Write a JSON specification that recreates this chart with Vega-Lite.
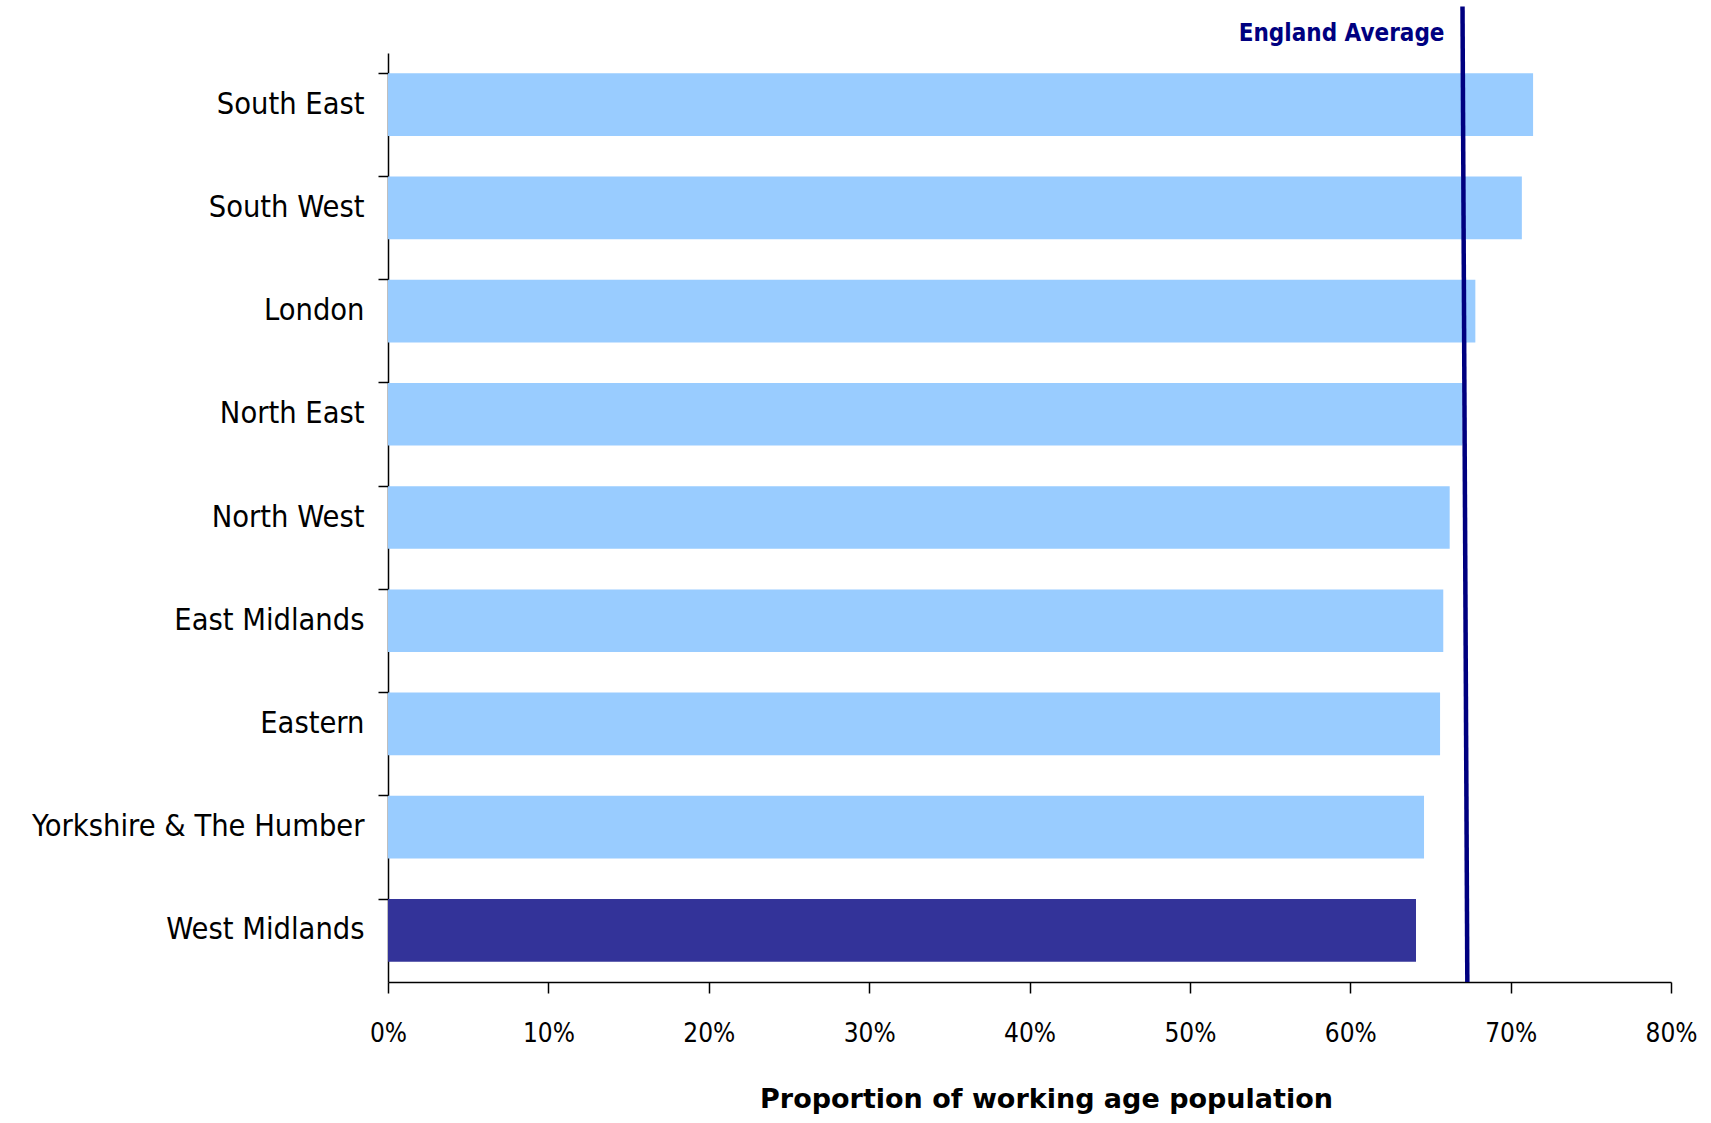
{
  "$schema": "https://vega.github.io/schema/vega-lite/v6.json",
  "autosize": {"type": "none"},
  "padding": {"left": 388, "top": 53, "right": 40, "bottom": 141},
  "width": 1283,
  "height": 929,
  "background": "white",
  "config": {
    "view": {"stroke": null},
    "font": "DejaVu Sans Condensed",
    "axis": {"grid": false, "domainColor": "black", "tickColor": "black", "labelColor": "black", "titleColor": "black", "domainWidth": 1.5, "tickWidth": 1.5}
  },
  "datasets": {
    "regions": [
      {"region": "South East", "value": 0.714, "highlight": "no"},
      {"region": "South West", "value": 0.707, "highlight": "no"},
      {"region": "London", "value": 0.678, "highlight": "no"},
      {"region": "North East", "value": 0.670, "highlight": "no"},
      {"region": "North West", "value": 0.662, "highlight": "no"},
      {"region": "East Midlands", "value": 0.658, "highlight": "no"},
      {"region": "Eastern", "value": 0.656, "highlight": "no"},
      {"region": "Yorkshire & The Humber", "value": 0.646, "highlight": "no"},
      {"region": "West Midlands", "value": 0.641, "highlight": "yes"}
    ],
    "avg": [
      {"x_top": 0.670, "x_bottom": 0.673, "y_top": 9.45, "y_bottom": 0, "label": "England Average", "y_label": 9.18}
    ]
  },
  "layer": [
    {
      "data": {"name": "regions"},
      "mark": {"type": "bar"},
      "encoding": {
        "y": {
          "field": "region", "type": "nominal", "sort": null,
          "scale": {"paddingInner": 0.393, "paddingOuter": 0.197},
          "axis": {"title": null, "bandPosition": 0, "tickSize": 10, "labelPadding": 14, "labelFontSize": 30.5, "labelLimit": 0, "domainWidth": 1.5}
        },
        "x": {
          "field": "value", "type": "quantitative",
          "scale": {"domain": [0, 0.8], "nice": false},
          "axis": {"values": [0, 0.1, 0.2, 0.3, 0.4, 0.5, 0.6, 0.7, 0.8], "format": ".0%", "tickSize": 11, "labelPadding": 27, "labelFontSize": 26, "title": "Proportion of working age population", "titleFont": "DejaVu Sans", "titleFontSize": 27, "titleFontWeight": "bold", "titlePadding": 40, "titleX": 658, "labelFlush": false}
        },
        "color": {
          "field": "highlight", "type": "nominal",
          "scale": {"domain": ["no", "yes"], "range": ["#99CCFF", "#333399"]},
          "legend": null
        }
      }
    },
    {
      "data": {"name": "avg"},
      "mark": {"type": "rule", "color": "#000080", "strokeWidth": 4.5, "clip": false},
      "encoding": {
        "x": {"field": "x_top", "type": "quantitative"},
        "x2": {"field": "x_bottom"},
        "y": {"field": "y_top", "type": "quantitative", "scale": {"domain": [0, 9], "nice": false, "zero": true}, "axis": null},
        "y2": {"field": "y_bottom"}
      }
    },
    {
      "data": {"name": "avg"},
      "mark": {"type": "text", "color": "#000080", "fontWeight": "bold", "fontSize": 24, "align": "right", "baseline": "middle", "dx": -18},
      "encoding": {
        "x": {"field": "x_top", "type": "quantitative"},
        "y": {"field": "y_label", "type": "quantitative", "scale": {"domain": [0, 9], "nice": false}, "axis": null},
        "text": {"field": "label"}
      }
    }
  ],
  "resolve": {"scale": {"y": "independent"}, "axis": {"y": "independent"}}
}
